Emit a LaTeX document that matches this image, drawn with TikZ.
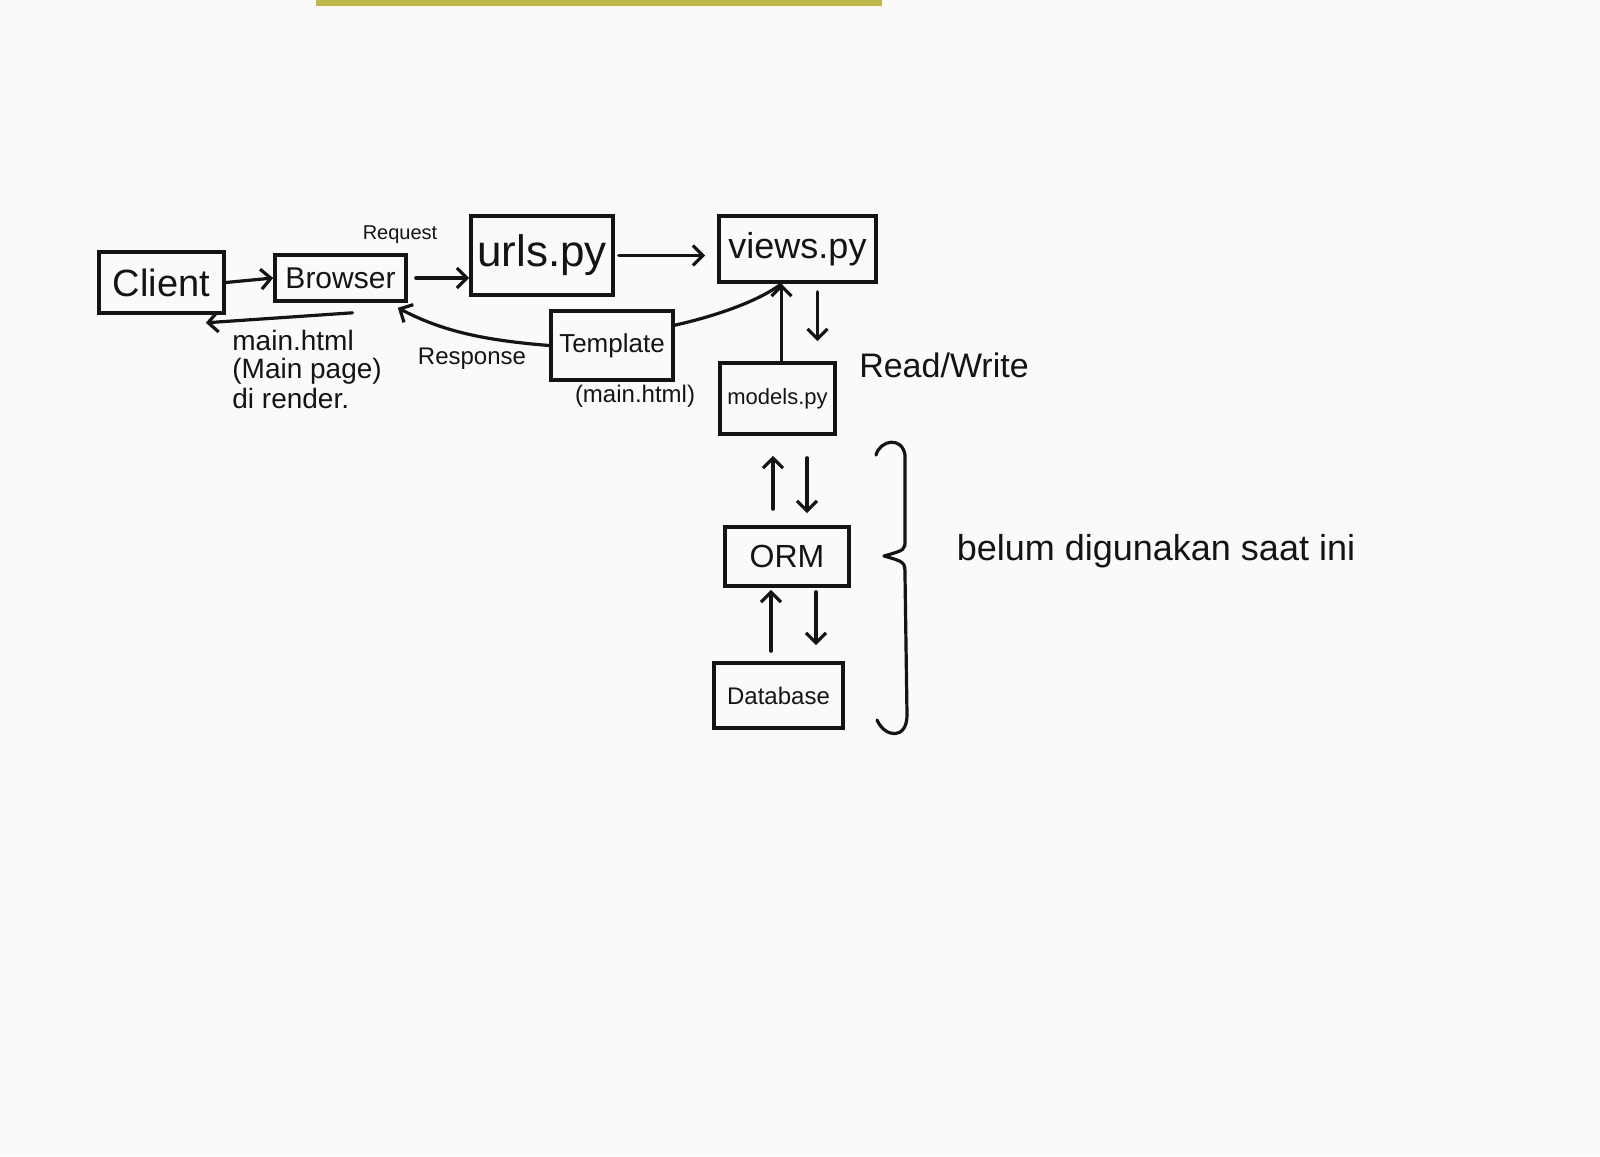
\documentclass[tikz,border=0pt]{standalone}
\usepackage{fontspec}
\setmainfont{Liberation Sans}
\usetikzlibrary{arrows.meta}
\definecolor{paper}{RGB}{250,250,250}
\definecolor{ink}{RGB}{20,20,20}
\definecolor{strip}{RGB}{190,184,72}
\tikzset{
  box/.style={draw=ink, line width=1.8pt, inner sep=0pt, align=center, text=ink},
  lbl/.style={inner sep=0pt, text=ink, align=left},
  arr/.style={draw=ink, line width=1.6pt, line cap=round, -{Straight Barb[length=5pt,width=10pt,line width=1.6pt]}},
  ln/.style={draw=ink, line width=1.6pt, line cap=round},
}
\begin{document}
\begin{tikzpicture}[x=0.5pt,y=-0.5pt]
\fill[paper] (0,0) rectangle (1600,1156);
\useasboundingbox (0,0) rectangle (1600,1156);
\fill[strip] (316,0) rectangle (882,6);

% boxes
\node[box, minimum width=62.5pt, minimum height=30.5pt, font=\fontsize{19}{21}\selectfont] (client) at (161.5,282.5) {Client};
\node[box, minimum width=65.5pt, minimum height=23pt, font=\fontsize{15}{17}\selectfont] (browser) at (340.5,278) {Browser};
\node[box, minimum width=71pt, minimum height=39.5pt, font=\fontsize{22}{24}\selectfont] (urls) at (542,255.5) {urls.py};
\node[box, minimum width=78.5pt, minimum height=33pt, font=\fontsize{18}{20}\selectfont] (views) at (797.5,249) {views.py};
\node[box, minimum width=61pt, minimum height=34.5pt, font=\fontsize{13}{15}\selectfont] (tmpl) at (612,345.5) {Template};
\node[box, minimum width=57.5pt, minimum height=35.5pt, font=\fontsize{11}{13}\selectfont] (models) at (777.5,398.5) {models.py};
\node[box, minimum width=62pt, minimum height=29.5pt, font=\fontsize{16}{18}\selectfont] (orm) at (787,556.5) {ORM};
\node[box, minimum width=64.5pt, minimum height=32.5pt, font=\fontsize{12}{14}\selectfont] (db) at (778.5,695.5) {Database};

% labels
\node[lbl, font=\fontsize{10}{12}\selectfont] (req) at (400,235) {Request};
\node[lbl, anchor=north west, font=\fontsize{14}{14}\selectfont] (mainlbl) at (232,330) {main.html\\(Main page)\\[1pt]di render.};
\node[lbl, font=\fontsize{12}{14}\selectfont] (resp) at (472,359) {Response};
\node[lbl, font=\fontsize{12}{14}\selectfont] (tmplbl) at (635,396) {(main.html)};
\node[lbl, font=\fontsize{17}{19}\selectfont] (rw) at (944,365) {Read/Write};
\node[lbl, font=\fontsize{18}{20}\selectfont] (note) at (1156,551) {belum digunakan saat ini};

% request flow
\draw[arr] (client.east) -- (browser.west);
\draw[arr] ([xshift=4pt]browser.east) -- (browser.east -| urls.west);
\draw[arr] ([xshift=2pt]urls.east) -- ([xshift=-6pt]urls.east -| views.west);

% response flow
\draw[arr] ([xshift=6pt,yshift=-5pt]browser.south) -- ([xshift=-10pt,yshift=-4pt]client.south east);
\draw[arr] (tmpl.west) .. controls (480,340) and (440,330) .. ([xshift=-5pt,yshift=-2.5pt]browser.south east);
\draw[ln] ([yshift=-8pt]tmpl.north east) .. controls (720,315) and (760,300) .. ([xshift=-8pt]views.south);

% views <-> models
\draw[arr] ([xshift=2pt]models.north) -- ([xshift=2pt]models.north |- views.south);
\draw[arr] ([xshift=20pt,yshift=-4pt]models.north |- views.south) -- ([xshift=20pt,yshift=10pt]models.north);

% models <-> ORM
\draw[arr] ([xshift=-7pt,yshift=8pt]orm.north) -- ([xshift=-7pt,yshift=-10pt]orm.north |- models.south);
\draw[arr] ([xshift=10pt,yshift=-11pt]orm.north |- models.south) -- ([xshift=10pt,yshift=6pt]orm.north);

% ORM <-> Database
\draw[arr] ([xshift=-8pt,yshift=5pt]orm.south |- db.north) -- ([xshift=-8pt,yshift=-1pt]orm.south);
\draw[arr] ([xshift=14.5pt,yshift=-2pt]orm.south) -- ([xshift=14.5pt,yshift=8pt]orm.south |- db.north);

% brace
\draw[ln, line join=round] (876,455) .. controls (880,440) and (902,436) .. (905,455)
  -- (905,540) .. controls (905,550) .. (884,556) .. controls (905,562) .. (905,575)
  -- (907,715) .. controls (907,740) and (885,738) .. (877,720);
\end{tikzpicture}
\end{document}
